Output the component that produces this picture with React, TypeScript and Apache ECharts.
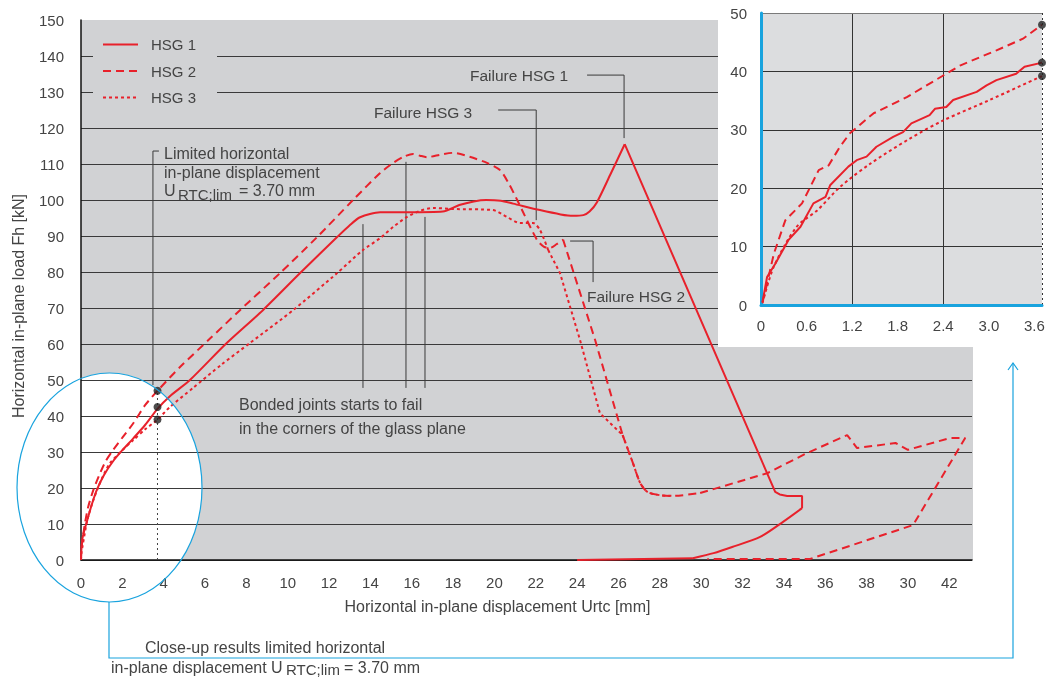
import React, { useEffect, useRef } from 'react';
import * as echarts from 'echarts';

// ---------- data ----------
const mainXLabels = ['0','2','4','6','8','10','12','14','16','18','20','22','24','26','28','30','32','34','36','38','30','42'];
const closeXLabels = ['0','0.6','1.2','1.8','2.4','3.0','3.6'];

const hsg1Main = [[0,0],[0.02,3],[0.07,6],[0.15,8],[0.3,11],[0.5,15],[0.76,19.4],[1.1,23.5],[1.56,27.5],[2,30.5],[2.53,33.8],[3.1,37.5],[3.7,42],[4.3,45.5],[5.27,50],[7,60],[8.8,69.4],[10.6,79.7],[12.39,89.7],[13.0,93],[13.5,95.2],[14.47,96.6],[15.8,96.6],[17.5,96.8],[18.3,98.6],[19.0,99.6],[19.6,100],[20.3,99.8],[20.9,99],[22.2,97.2],[23.2,96],[23.8,95.6],[24.3,95.8],[24.6,96.8],[24.96,99.4],[25.6,107],[26.3,115.5],[33.58,18.9],[33.8,18.2],[34.16,17.8],[34.88,17.8],[34.88,14.4],[33.96,10.6],[32.85,6.4],[31.5,3.6],[30.6,1.9],[29.6,0.5],[24,0]];
const hsg2Main = [[0,0],[0.02,3],[0.08,6],[0.2,10.5],[0.35,14.8],[0.6,19.5],[0.92,24.1],[1.2,27.5],[1.56,30.6],[2,34],[2.53,38],[3.1,43],[3.7,47],[4.79,53.6],[6.24,61.5],[7.69,69.4],[9.63,79.7],[11.42,89.7],[13.16,100],[14.47,107.5],[15.1,110.3],[15.6,112],[16.06,112.8],[16.4,112.3],[16.74,111.9],[17.4,112.6],[18.0,113.1],[18.8,112],[19.64,110.3],[20.27,108.3],[20.7,104.5],[21.1,100],[22.06,88.9],[22.4,87],[22.69,86.7],[23.0,87.7],[23.32,89],[24.87,61.1],[26.2,34.7],[26.7,26.9],[27.05,21.4],[27.4,18.9],[28.0,18.0],[28.65,17.8],[29.95,18.6],[33.19,24.1],[35.12,29.7],[37.06,34.7],[37.54,31.1],[39.4,32.5],[40.0,30.6],[42.04,33.9],[42.77,33.9],[40.25,9.7],[35.27,0.3],[30.3,0.3]];
const hsg3Main = [[0,0],[0.02,2],[0.08,4],[0.3,11],[0.6,16.7],[1,22.5],[1.4,26.9],[2,30.5],[2.53,33.3],[3.1,36.3],[3.7,39],[4.3,42.5],[5.42,47.8],[6.8,54.3],[8.18,60.3],[10.26,69.4],[12.39,79.7],[13.64,86.1],[14.47,89.4],[15.1,92.5],[15.77,95.3],[16.4,97],[17.03,97.8],[18.0,97.5],[19.93,97.2],[20.6,95.3],[21.24,93.6],[21.87,93.6],[22.2,91.7],[22.6,86.1],[23.17,79.7],[24.14,61.1],[25.1,40.8],[25.6,38],[26.2,34.7],[26.7,26.9],[27.05,21.4],[27.4,18.9],[28.0,18.0],[28.65,17.8]];

// points where each curve changes between a smooth and a straight run
const hsg1Breaks = [[26.3,115.5],[34.88,14.4],[29.6,0.5]];
const hsg2Breaks = [[23.32,89],[26.2,34.7],[29.95,18.6]];
const hsg3Breaks = [[22.6,86.1],[26.2,34.7]];

const hsg1Close = [[0.02,0.5],[0.08,4.8],[0.19,7.1],[0.36,11.1],[0.52,13.4],[0.69,17.4],[0.85,18.5],[0.91,20.5],[1.15,23.7],[1.26,24.8],[1.39,25.4],[1.52,27.1],[1.74,28.8],[1.87,29.6],[1.98,31.1],[2.22,32.5],[2.29,33.6],[2.44,33.9],[2.53,35.1],[2.84,36.5],[2.97,37.6],[3.1,38.5],[3.36,39.6],[3.47,40.8],[3.7,41.5]];
const hsg2Close = [[0.02,0.5],[0.05,2],[0.17,8.8],[0.32,14.5],[0.54,17.4],[0.76,23.1],[0.89,23.9],[1.04,27.1],[1.17,29.4],[1.48,32.8],[1.92,35.6],[2.4,39.3],[2.62,41],[3.1,43.6],[3.45,45.6],[3.7,48]];
const hsg3Close = [[0.02,0.3],[0.17,6.6],[0.47,13.4],[0.74,16.2],[1.04,20.2],[1.44,24.2],[1.96,28.5],[2.4,31.6],[3.01,35.1],[3.7,39.2]];

const limitDisp = 3.7;
const limitLoadsMain = [47, 42.5, 39];
const limitLoadsClose = [48, 41.5, 39.2];
const closeGridX = [1.2, 2.4];

// annotation leader lines (data space of the main chart)
const leaderLimit = [[3.77,113.6],[3.48,113.6],[3.48,48.6]];
const leaderBonded = [
  [[13.64,93.3],[13.64,47.8]],
  [[15.72,110.6],[15.72,47.8]],
  [[16.64,95.3],[16.64,47.8]],
];
const leaderFail1 = [[24.48,134.7],[26.27,134.7],[26.27,117.2]];
const leaderFail3 = [[20.18,125],[22.02,125],[22.02,94.4]];
const leaderFail2 = [[23.66,88.6],[24.77,88.6],[24.77,77.2]];

// ---------- styles ----------
const RED = '#e8212b';
const BLUE = '#19a3de';
const INK = '#444444';
const FONT = 'Liberation Sans';

// split a curve at its break points; runs alternate smooth / straight, starting smooth
function splitRuns(data: number[][], breaks: number[][]) {
  const idx = breaks
    .map((b) => data.findIndex((p) => p[0] === b[0] && p[1] === b[1]))
    .filter((i) => i > 0);
  const cuts = [0, ...idx, data.length - 1];
  const runs: { pts: number[][]; smooth: boolean }[] = [];
  for (let i = 0; i < cuts.length - 1; i++) {
    runs.push({ pts: data.slice(cuts[i], cuts[i + 1] + 1), smooth: i % 2 === 0 });
  }
  return runs;
}

export default function App() {
  const ref = useRef<HTMLDivElement>(null);
  useEffect(() => {
    if (!ref.current) return;
    const chart = echarts.init(ref.current, undefined, { renderer: 'svg' });

    const leaderSeries = (data: number[][]) => ({
      type: 'line', xAxisIndex: 0, yAxisIndex: 0, data, symbol: 'none', silent: true, z: 3,
      lineStyle: { color: '#3a3a3a', width: 1 },
    });

    const txt = (text: string, x: number, y: number, size = 16) => ({
      type: 'text', x, y, z: 8, silent: true,
      style: { text, fill: INK, fontSize: size, fontFamily: FONT, verticalAlign: 'middle', align: 'left' },
    });

    const curveSeries = (name: string, data: number[][], breaks: number[][], type: any) =>
      splitRuns(data, breaks).map((run) => ({
        name, type: 'line', xAxisIndex: 0, yAxisIndex: 0, data: run.pts, symbol: 'none', showSymbol: false, z: 4,
        smooth: run.smooth ? 0.25 : false,
        lineStyle: { color: RED, width: 2, type }, itemStyle: { color: RED },
      }));

    const mainColors = Array.from({ length: 16 }, (_, i) => (i === 15 ? 'rgba(0,0,0,0)' : '#3a3a3a'));

    const option: any = {
      animation: false,
      textStyle: { fontFamily: FONT },
      legend: {
        data: ['HSG 1', 'HSG 2', 'HSG 3'],
        orient: 'vertical', left: 93, top: 28,
        padding: [9, 21, 9, 9],
        backgroundColor: '#d1d2d4',
        itemWidth: 35, itemHeight: 16, itemGap: 11.5,
        selectedMode: false,
        itemStyle: { opacity: 0 },
        textStyle: { color: INK, fontSize: 15, fontFamily: FONT, padding: [0, 0, 0, 8] },
      },
      grid: [
        { left: 81, top: 20, width: 891, height: 540, show: false, containLabel: false },
        { left: 761, top: 13, width: 281, height: 292, show: true, backgroundColor: '#dcdddf', borderWidth: 0, z: 5 },
      ],
      xAxis: [
        {
          type: 'value', gridIndex: 0, min: 0, max: 43.1, interval: 2,
          name: 'Horizontal in-plane displacement Urtc [mm]', nameLocation: 'middle', nameGap: 38,
          nameTextStyle: { color: INK, fontSize: 16, fontFamily: FONT, padding: [0, 58, 0, 0] },
          axisLine: { lineStyle: { color: '#111', width: 1.5 } },
          axisTick: { show: false }, splitLine: { show: false },
          axisLabel: {
            color: INK, fontSize: 15, margin: 15,
            formatter: (v: number) => {
              const k = Math.round(v / 2);
              if (Math.abs(v - k * 2) > 1e-6) return '';
              return mainXLabels[k] ?? '';
            },
          },
        },
        {
          type: 'value', gridIndex: 1, min: 0, max: 3.7, interval: 0.6, z: 6,
          axisLine: { lineStyle: { color: BLUE, width: 3 } },
          axisTick: { show: false }, splitLine: { show: false },
          axisLabel: {
            color: INK, fontSize: 15, margin: 13,
            formatter: (v: number) => {
              const k = Math.round(v / 0.6);
              if (Math.abs(v - k * 0.6) > 1e-6) return '';
              return closeXLabels[k] ?? '';
            },
          },
        },
      ],
      yAxis: [
        {
          type: 'value', gridIndex: 0, min: 0, max: 150, interval: 10,
          name: 'Horizontal in-plane load Fh [kN]', nameLocation: 'middle', nameGap: 55, nameRotate: 90,
          nameTextStyle: { color: INK, fontSize: 16, fontFamily: FONT, padding: [0, 32, 0, 0] },
          axisLine: { show: true, lineStyle: { color: '#111', width: 1.5 } },
          axisTick: { show: false },
          splitLine: { show: true, lineStyle: { color: mainColors, width: 1 } },
          axisLabel: { color: INK, fontSize: 15, margin: 17 },
        },
        {
          type: 'value', gridIndex: 1, min: 0, max: 50, interval: 10, z: 6,
          axisLine: { show: true, lineStyle: { color: BLUE, width: 3 } },
          axisTick: { show: false },
          splitLine: { show: true, lineStyle: { color: ['#333', '#333', '#333', '#333', '#333', '#7a7a7a'], width: 1 } },
          axisLabel: { color: INK, fontSize: 15, margin: 14 },
        },
      ],
      series: [
        ...curveSeries('HSG 1', hsg1Main, hsg1Breaks, 'solid'),
        ...curveSeries('HSG 2', hsg2Main, hsg2Breaks, [8, 5]),
        ...curveSeries('HSG 3', hsg3Main, hsg3Breaks, [3, 3]),
        leaderSeries(leaderLimit),
        ...leaderBonded.map(leaderSeries),
        leaderSeries(leaderFail1),
        leaderSeries(leaderFail3),
        leaderSeries(leaderFail2),
        {
          type: 'line', xAxisIndex: 0, yAxisIndex: 0, symbol: 'none', silent: true, z: 3,
          data: [[limitDisp, 0], [limitDisp, Math.max(...limitLoadsMain)]],
          lineStyle: { color: '#444', width: 1, type: [2, 3] },
        },
        {
          type: 'scatter', xAxisIndex: 0, yAxisIndex: 0, silent: true, z: 5,
          data: limitLoadsMain.map((v) => [limitDisp, v]), symbolSize: 8, itemStyle: { color: '#222' },
        },
        // close-up
        {
          type: 'line', xAxisIndex: 1, yAxisIndex: 1, data: [[0, 0]], symbol: 'none', silent: true, z: 6,
          lineStyle: { opacity: 0 },
          markLine: {
            silent: true, symbol: ['none', 'none'], label: { show: false },
            lineStyle: { color: '#333', width: 1, type: 'solid' },
            data: [
              ...closeGridX.map((x) => ({ xAxis: x })),
              { xAxis: limitDisp, lineStyle: { color: '#333', width: 1, type: [2, 3] } },
            ],
          },
        },
        { name: 'HSG 1', type: 'line', xAxisIndex: 1, yAxisIndex: 1, data: hsg1Close, symbol: 'none', showSymbol: false, z: 7,
          lineStyle: { color: RED, width: 2, type: 'solid' }, itemStyle: { color: RED } },
        { name: 'HSG 2', type: 'line', xAxisIndex: 1, yAxisIndex: 1, data: hsg2Close, symbol: 'none', showSymbol: false, z: 7,
          lineStyle: { color: RED, width: 2, type: [8, 5] }, itemStyle: { color: RED } },
        { name: 'HSG 3', type: 'line', xAxisIndex: 1, yAxisIndex: 1, data: hsg3Close, symbol: 'none', showSymbol: false, z: 7, smooth: 0.3,
          lineStyle: { color: RED, width: 2, type: [3, 3] }, itemStyle: { color: RED } },
        {
          type: 'scatter', xAxisIndex: 1, yAxisIndex: 1, silent: true, z: 8,
          data: limitLoadsClose.map((v) => [limitDisp, v]), symbolSize: 8, itemStyle: { color: '#222' },
        },
      ],
      graphic: {
        elements: [
          { type: 'rect', z: -10, silent: true, shape: { x: 81, y: 20, width: 892, height: 540 }, style: { fill: '#d1d2d4' } },
          { type: 'ellipse', z: -9, silent: true, shape: { cx: 109.5, cy: 487.5, rx: 92.5, ry: 114.5 }, style: { fill: '#ffffff' } },
          { type: 'rect', z: 1, silent: true, shape: { x: 718, y: 0, width: 342, height: 347 }, style: { fill: '#ffffff' } },
          { type: 'ellipse', z: 8, silent: true, shape: { cx: 109.5, cy: 487.5, rx: 92.5, ry: 114.5 }, style: { fill: 'none', stroke: BLUE, lineWidth: 1.2 } },
          { type: 'polyline', z: 8, silent: true, shape: { points: [[109, 602], [109, 658], [1013, 658], [1013, 363]] }, style: { fill: 'none', stroke: BLUE, lineWidth: 1.2 } },
          { type: 'polyline', z: 8, silent: true, shape: { points: [[1008, 370], [1013, 363], [1018, 370]] }, style: { fill: 'none', stroke: BLUE, lineWidth: 1.2 } },
          txt('Limited horizontal', 164, 153),
          txt('in-plane displacement', 164, 172),
          txt('U', 164, 190),
          txt('RTC;lim', 178, 194, 15),
          txt('= 3.70 mm', 239, 190),
          txt('Failure HSG 1', 470, 75, 15.5),
          txt('Failure HSG 3', 374, 112, 15.5),
          txt('Failure HSG 2', 587, 296, 15.5),
          txt('Bonded joints starts to fail', 239, 404),
          txt('in the corners of the glass plane', 239, 428),
          txt('Close-up results limited horizontal', 145, 647),
          txt('in-plane displacement U', 111, 667),
          txt('RTC;lim', 286, 669, 15),
          txt('= 3.70 mm', 344, 667),
        ],
      },
    };

    chart.setOption(option);
    return () => chart.dispose();
  }, []);

  return <div ref={ref} style={{ position: 'fixed', left: 0, top: 0, width: 1060, height: 678 }} />;
}
